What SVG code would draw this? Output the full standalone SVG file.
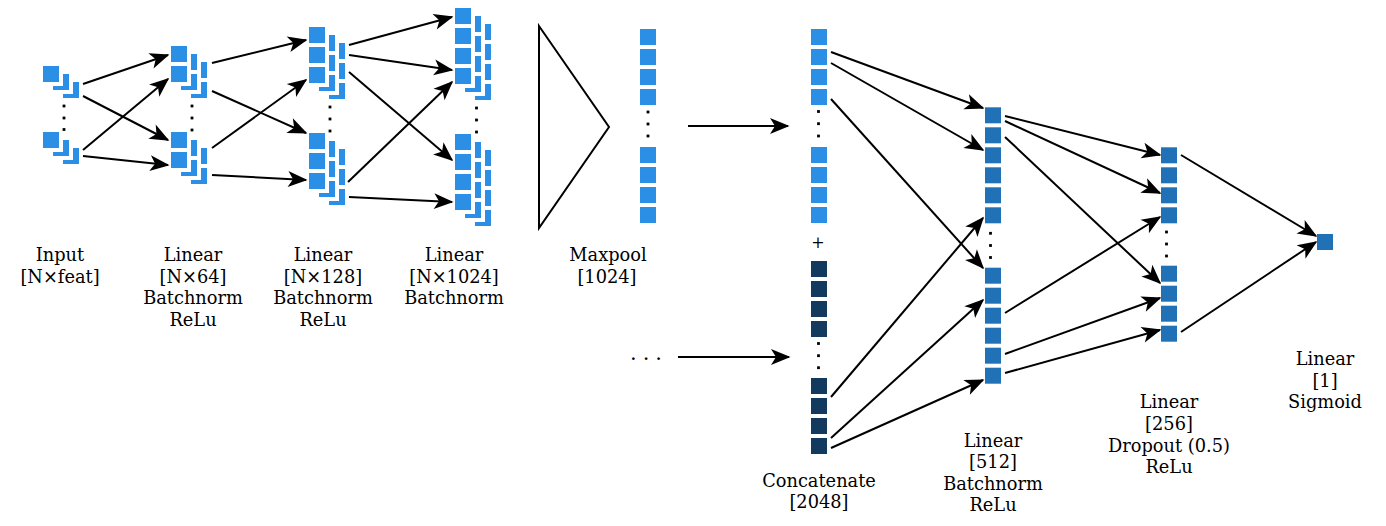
<svg xmlns="http://www.w3.org/2000/svg" xmlns:xlink="http://www.w3.org/1999/xlink" width="1386" height="526" viewBox="0 0 1386 526">
<style>
.l{fill:#2b8fe6}
.m{fill:#2171b6}
.d{fill:#123a5e}
.h{fill:#ffffff}
.dt{fill:#000000}
.c{stroke:#000;stroke-width:2;fill:none;marker-end:url(#ah)}
text{font-family:"DejaVu Serif","Liberation Serif",serif;font-size:17.8px;fill:#000;text-anchor:middle}
</style>
<defs>
<marker id="ah" markerUnits="userSpaceOnUse" markerWidth="24" markerHeight="20" viewBox="-21 -10 24 20" refX="0" refY="0" orient="auto">
<path d="M1.5,0 L-18,-8 L-13,0 L-18,8 Z" fill="#000"/>
</marker>
<g id="s3">
<rect class="l" x="20" y="16" width="16" height="16"/>
<rect class="h" x="6" y="4" width="24" height="24"/>
<rect class="l" x="10" y="8" width="16" height="16"/>
<rect class="h" x="-4" y="-4" width="24" height="24"/>
<rect class="l" x="0" y="0" width="16" height="16"/>
</g>
<rect id="sq" width="16" height="16"/>
<rect id="dd" x="-1.4" y="-1.4" width="2.8" height="2.8"/>
</defs>
<rect width="1386" height="526" fill="#fff"/>

<g id="input">
<use xlink:href="#s3" x="43" y="66"/>
<use xlink:href="#s3" x="43" y="132"/>
<g class="dt"><use xlink:href="#dd" x="64" y="106"/><use xlink:href="#dd" x="64" y="118"/><use xlink:href="#dd" x="64" y="129.5"/></g>
<text x="60" y="261">Input</text>
<text x="60" y="283">[N×feat]</text>
</g>

<g id="linear64">
<use xlink:href="#s3" x="171" y="46"/>
<use xlink:href="#s3" x="171" y="66"/>
<use xlink:href="#s3" x="171" y="132"/>
<use xlink:href="#s3" x="171" y="152"/>
<g class="dt"><use xlink:href="#dd" x="192" y="106"/><use xlink:href="#dd" x="192" y="118"/><use xlink:href="#dd" x="192" y="130"/></g>
<text x="193" y="261">Linear</text>
<text x="193" y="283">[N×64]</text>
<text x="193" y="304">Batchnorm</text>
<text x="193" y="326">ReLu</text>
</g>

<g id="linear128">
<use xlink:href="#s3" x="309" y="27"/>
<use xlink:href="#s3" x="309" y="47"/>
<use xlink:href="#s3" x="309" y="67"/>
<use xlink:href="#s3" x="309" y="133"/>
<use xlink:href="#s3" x="309" y="153"/>
<use xlink:href="#s3" x="309" y="173"/>
<g class="dt"><use xlink:href="#dd" x="330" y="107"/><use xlink:href="#dd" x="330" y="119"/><use xlink:href="#dd" x="330" y="131"/></g>
<text x="323" y="261">Linear</text>
<text x="323" y="283">[N×128]</text>
<text x="323" y="304">Batchnorm</text>
<text x="323" y="326">ReLu</text>
</g>

<g id="linear1024">
<use xlink:href="#s3" x="455" y="8"/>
<use xlink:href="#s3" x="455" y="28"/>
<use xlink:href="#s3" x="455" y="48"/>
<use xlink:href="#s3" x="455" y="68"/>
<use xlink:href="#s3" x="455" y="134"/>
<use xlink:href="#s3" x="455" y="154"/>
<use xlink:href="#s3" x="455" y="174"/>
<use xlink:href="#s3" x="455" y="194"/>
<g class="dt"><use xlink:href="#dd" x="476.5" y="108"/><use xlink:href="#dd" x="476.5" y="120"/><use xlink:href="#dd" x="476.5" y="132"/></g>
<text x="454" y="261">Linear</text>
<text x="454" y="283">[N×1024]</text>
<text x="454" y="304">Batchnorm</text>
</g>

<g id="maxpool-op">
<polygon points="539,26 609,127 539,228" fill="none" stroke="#000" stroke-width="2"/>
</g>

<g id="maxpool">
<g class="l">
<use xlink:href="#sq" x="640" y="29"/><use xlink:href="#sq" x="640" y="49"/><use xlink:href="#sq" x="640" y="69"/><use xlink:href="#sq" x="640" y="89"/>
<use xlink:href="#sq" x="640" y="147"/><use xlink:href="#sq" x="640" y="167"/><use xlink:href="#sq" x="640" y="187"/><use xlink:href="#sq" x="640" y="207"/>
</g>
<g class="dt"><use xlink:href="#dd" x="648" y="112"/><use xlink:href="#dd" x="648" y="124"/><use xlink:href="#dd" x="648" y="136"/></g>
<text x="608" y="261">Maxpool</text>
<text x="607" y="283">[1024]</text>
</g>

<g id="other-input">
<text x="649" y="360" letter-spacing="6" style="font-size:21px">...</text>
</g>

<g id="concatenate">
<g class="l">
<use xlink:href="#sq" x="811" y="29"/><use xlink:href="#sq" x="811" y="49"/><use xlink:href="#sq" x="811" y="69"/><use xlink:href="#sq" x="811" y="89"/>
<use xlink:href="#sq" x="811" y="147"/><use xlink:href="#sq" x="811" y="167"/><use xlink:href="#sq" x="811" y="187"/><use xlink:href="#sq" x="811" y="207"/>
</g>
<g class="d">
<use xlink:href="#sq" x="811" y="261"/><use xlink:href="#sq" x="811" y="281"/><use xlink:href="#sq" x="811" y="301"/><use xlink:href="#sq" x="811" y="321"/>
<use xlink:href="#sq" x="811" y="378"/><use xlink:href="#sq" x="811" y="398"/><use xlink:href="#sq" x="811" y="418"/><use xlink:href="#sq" x="811" y="438"/>
</g>
<g class="dt">
<use xlink:href="#dd" x="818.5" y="111.5"/><use xlink:href="#dd" x="818.5" y="123.7"/><use xlink:href="#dd" x="818.5" y="136"/>
<use xlink:href="#dd" x="818.5" y="343.5"/><use xlink:href="#dd" x="818.5" y="355.7"/><use xlink:href="#dd" x="818.5" y="367.7"/>
</g>
<text x="818" y="248" style="font-size:16px">+</text>
<text x="819" y="487">Concatenate</text>
<text x="819" y="508">[2048]</text>
</g>

<g id="linear512">
<g class="m">
<use xlink:href="#sq" x="985" y="107.3"/><use xlink:href="#sq" x="985" y="127.3"/><use xlink:href="#sq" x="985" y="147.3"/><use xlink:href="#sq" x="985" y="167.3"/><use xlink:href="#sq" x="985" y="187.3"/><use xlink:href="#sq" x="985" y="207.3"/>
<use xlink:href="#sq" x="985" y="267.7"/><use xlink:href="#sq" x="985" y="287.7"/><use xlink:href="#sq" x="985" y="307.7"/><use xlink:href="#sq" x="985" y="327.7"/><use xlink:href="#sq" x="985" y="347.7"/><use xlink:href="#sq" x="985" y="367.7"/>
</g>
<g class="dt"><use xlink:href="#dd" x="990.5" y="233.3"/><use xlink:href="#dd" x="990.5" y="245.5"/><use xlink:href="#dd" x="990.5" y="257.5"/></g>
<text x="993" y="447">Linear</text>
<text x="993" y="468">[512]</text>
<text x="993" y="490">Batchnorm</text>
<text x="993" y="511">ReLu</text>
</g>

<g id="linear256">
<g class="m">
<use xlink:href="#sq" x="1161" y="147.3"/><use xlink:href="#sq" x="1161" y="167.3"/><use xlink:href="#sq" x="1161" y="187.3"/><use xlink:href="#sq" x="1161" y="207.3"/>
<use xlink:href="#sq" x="1161" y="265.7"/><use xlink:href="#sq" x="1161" y="285.7"/><use xlink:href="#sq" x="1161" y="305.7"/><use xlink:href="#sq" x="1161" y="325.7"/>
</g>
<g class="dt"><use xlink:href="#dd" x="1166.5" y="232"/><use xlink:href="#dd" x="1166.5" y="244"/><use xlink:href="#dd" x="1166.5" y="256"/></g>
<text x="1169" y="408">Linear</text>
<text x="1169" y="430">[256]</text>
<text x="1169" y="451.5">Dropout (0.5)</text>
<text x="1169" y="473">ReLu</text>
</g>

<g id="output">
<use xlink:href="#sq" class="m" x="1317" y="234"/>
<text x="1325" y="365">Linear</text>
<text x="1325" y="386.5">[1]</text>
<text x="1325" y="408">Sigmoid</text>
</g>

<g id="connectors">
<line class="c" x1="83" y1="84" x2="168" y2="55"/>
<line class="c" x1="83" y1="96" x2="168" y2="140"/>
<line class="c" x1="83" y1="150" x2="168" y2="79"/>
<line class="c" x1="83" y1="156" x2="168" y2="165"/>

<line class="c" x1="212" y1="63" x2="306" y2="40"/>
<line class="c" x1="212" y1="91" x2="306" y2="133"/>
<line class="c" x1="212" y1="148" x2="306" y2="80"/>
<line class="c" x1="212" y1="175" x2="306" y2="180"/>

<line class="c" x1="349" y1="45" x2="452" y2="17"/>
<line class="c" x1="349" y1="55" x2="452" y2="70"/>
<line class="c" x1="349" y1="72" x2="452" y2="160"/>
<line class="c" x1="348" y1="182" x2="452" y2="82"/>
<line class="c" x1="349" y1="197" x2="452" y2="202"/>

<line class="c" x1="688" y1="126" x2="788" y2="126"/>
<line class="c" x1="678" y1="357" x2="789" y2="357"/>

<line class="c" x1="831" y1="52" x2="983" y2="108"/>
<line class="c" x1="831" y1="63" x2="983" y2="150"/>
<line class="c" x1="831" y1="99" x2="983" y2="268"/>
<line class="c" x1="831" y1="397" x2="983" y2="218"/>
<line class="c" x1="831" y1="438" x2="983" y2="300"/>
<line class="c" x1="831" y1="448" x2="983" y2="380"/>

<line class="c" x1="1005" y1="116" x2="1160" y2="155"/>
<line class="c" x1="1005" y1="121" x2="1160" y2="193"/>
<line class="c" x1="1005" y1="137" x2="1160" y2="283"/>
<line class="c" x1="1005" y1="313" x2="1160" y2="217"/>
<line class="c" x1="1005" y1="354" x2="1160" y2="298"/>
<line class="c" x1="1005" y1="373" x2="1160" y2="330"/>

<line class="c" x1="1181" y1="155" x2="1316" y2="236"/>
<line class="c" x1="1181" y1="332" x2="1316" y2="242"/>
</g>
</svg>
